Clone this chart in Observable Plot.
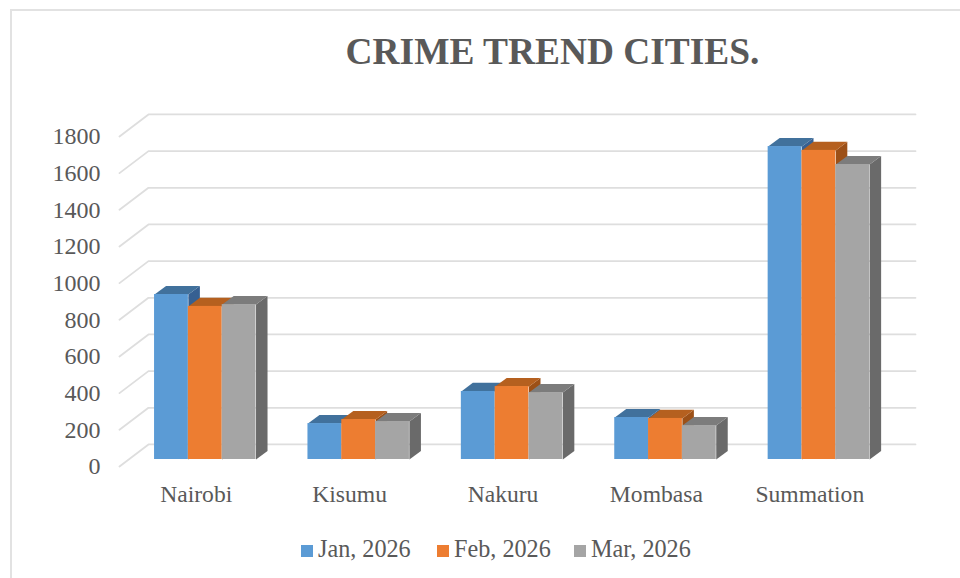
<!DOCTYPE html>
<html>
<head>
<meta charset="utf-8">
<script src="https://cdn.jsdelivr.net/npm/d3@7"></script>
<script src="https://cdn.jsdelivr.net/npm/@observablehq/plot@0.6"></script>
<style>
  html, body { margin: 0; padding: 0; background: #fff; }
  #page { position: relative; width: 960px; height: 578px; overflow: hidden; font-family: "Liberation Serif", serif; color: #595959; }
  #frameTop { position: absolute; left: 10px; top: 9px; width: 950px; height: 2px; background: #e2e2e2; }
  #frameLeft { position: absolute; left: 10px; top: 9px; width: 2px; height: 569px; background: #e2e2e2; }
  #title { height: 90px; box-sizing: border-box; padding-top: 30px; text-align: center; font-size: 37.4px; line-height: 44px; font-weight: bold; position: relative; left: 72.5px; }
  svg { display: block; }
  #legend { position: absolute; left: 0; top: 535px; width: 960px; height: 28px; line-height: 28px; font-size: 24.2px; }
  #legend span.item { position: absolute; top: 0; white-space: nowrap; }
  #legend i { display: inline-block; width: 12px; height: 12px; margin-right: 5px; }
</style>
</head>
<body>
<div id="page">
  <div id="frameTop"></div>
  <div id="frameLeft"></div>
  <div id="title">CRIME TREND CITIES.</div>
  <div id="chart"></div>
  <div id="legend"></div>
</div>
<script>
const categories = ["Nairobi", "Kisumu", "Nakuru", "Mombasa", "Summation"];
const seriesNames = ["Jan, 2026", "Feb, 2026", "Mar, 2026"];
const jan = [900, 196, 371, 229, 1707];
const feb = [835, 218, 398, 224, 1686];
const mar = [845, 207, 365, 185, 1609];
const yTicks = [0, 200, 400, 600, 800, 1000, 1200, 1400, 1600, 1800];
const frontColors = ["#5B9BD5", "#ED7D31", "#A5A5A5"];
const topColors = ["#41719C", "#B5601F", "#7C7C7C"];
const sideColors = ["#366092", "#9C5017", "#6A6A6A"];
const legendLeft = [301, 437, 574];

const seriesValues = [jan, feb, mar];
const barStart = 0.2285, barWidth = 0.2205;       // position within a category band
const barDepthX = 0.075, barDepthY = 47;          // depth of a bar
const floorLift = 38, wallDepthX = 0.189, wallDepthY = 120;  // how the walls sit around the bars

const bars = [];
seriesValues.forEach((vals, s) => vals.forEach((v, c) => {
  const x1 = c + barStart + s * barWidth;
  bars.push({id: `${c}-${s}`, category: categories[c], series: seriesNames[s], s, value: v, x1, x2: x1 + barWidth});
}));

const sideFaces = bars.flatMap(b => [
  {id: b.id, s: b.s, x: b.x2, y: 0},
  {id: b.id, s: b.s, x: b.x2 + barDepthX, y: barDepthY},
  {id: b.id, s: b.s, x: b.x2 + barDepthX, y: b.value + barDepthY},
  {id: b.id, s: b.s, x: b.x2, y: b.value}
]);
const topFaces = bars.flatMap(b => [
  {id: b.id, s: b.s, x: b.x1, y: b.value},
  {id: b.id, s: b.s, x: b.x1 + barDepthX, y: b.value + barDepthY},
  {id: b.id, s: b.s, x: b.x2 + barDepthX, y: b.value + barDepthY},
  {id: b.id, s: b.s, x: b.x2, y: b.value}
]);
const wallLines = yTicks.flatMap(v => [
  {v, x: 0, y: v - floorLift},
  {v, x: wallDepthX, y: v - floorLift + wallDepthY},
  {v, x: categories.length + wallDepthX, y: v - floorLift + wallDepthY}
]);

const chart = Plot.plot({
  width: 960,
  height: 430,
  marginLeft: 119,
  marginRight: 74,
  marginTop: 39,
  marginBottom: 61,
  style: {background: "transparent", fontFamily: "'Liberation Serif', serif", fontSize: "24px", color: "#595959", overflow: "visible"},
  x: {domain: [0, categories.length], label: null},
  y: {domain: [0, 1800], label: null},
  color: {type: "identity"},
  marks: [
    Plot.line(wallLines, {x: "x", y: "y", z: "v", stroke: "#DEDEDE", strokeWidth: 1.8, curve: "linear"}),
    Plot.line(sideFaces, {x: "x", y: "y", z: "id", fill: d => sideColors[d.s], stroke: "none", curve: "linear"}),
    Plot.line(topFaces, {x: "x", y: "y", z: "id", fill: d => topColors[d.s], stroke: "none", curve: "linear"}),
    Plot.rectY(bars, {x1: "x1", x2: "x2", y1: 0, y2: "value", fill: d => frontColors[d.s]}),
    Plot.axisY({ticks: yTicks, tickSize: 0, tickPadding: 19, dy: 7, label: null, fontSize: 24, fill: "#595959", tickFormat: d => String(d)}),
    Plot.axisX({ticks: categories.map((c, i) => i + 0.5), tickSize: 0, tickPadding: 26, label: null, fontSize: 23.6, fill: "#595959", tickFormat: d => categories[Math.floor(d)]})
  ]
});
document.getElementById("chart").appendChild(chart);

const legend = document.getElementById("legend");
seriesNames.forEach((name, i) => {
  const item = document.createElement("span");
  item.className = "item";
  item.style.left = legendLeft[i] + "px";
  const sw = document.createElement("i");
  sw.style.background = frontColors[i];
  item.appendChild(sw);
  item.appendChild(document.createTextNode(name));
  legend.appendChild(item);
});
</script>
</body>
</html>
